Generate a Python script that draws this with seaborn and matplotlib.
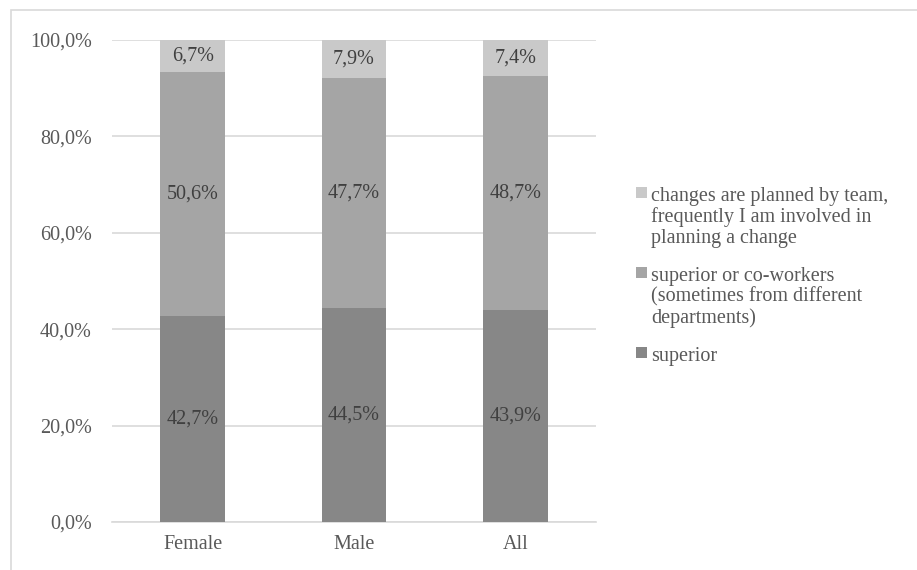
import pandas as pd
import seaborn as sns
import matplotlib.pyplot as plt
from matplotlib.patches import Patch, Rectangle
from matplotlib.ticker import FuncFormatter

groups = ["Female", "Male", "All"]
superior = [42.7, 44.5, 43.9]
coworkers = [50.6, 47.7, 48.7]
team = [6.7, 7.9, 7.4]

series_names = [
    "superior",
    "superior or co-workers\n(sometimes from different\ndepartments)",
    "changes are planned by team,\nfrequently I am involved in\nplanning a change",
]
series_colors = ["#878787", "#a5a5a5", "#c9c9c9"]


def fmt_pct(v):
    return f"{v:.1f}".replace(".", ",") + "%"


sns.set_theme(style="white")
plt.rcParams["font.family"] = ["Liberation Serif", "DejaVu Serif"]

fig = plt.figure(figsize=(9.17, 5.70), dpi=100)
ax = fig.add_axes([0.1221, 0.0842, 0.5279, 0.8456])

layers = [superior, coworkers, team]
cum = [0.0] * len(groups)
cums = []
for vals in layers:
    cum = [c + v for c, v in zip(cum, vals)]
    cums.append(cum)

# stacked bars drawn as overlapping totals, tallest first
for vals, color in zip(reversed(cums), reversed(series_colors)):
    df = pd.DataFrame({"group": groups, "value": [v / 100 for v in vals]})
    sns.barplot(data=df, x="group", y="value", color=color, width=0.4,
                saturation=1, errorbar=None, ax=ax, zorder=3, linewidth=0)

bottom = [0.0] * len(groups)
for vals in layers:
    for i, v in enumerate(vals):
        ax.text(i, (bottom[i] + v / 2) / 100, fmt_pct(v), ha="center",
                va="center", fontsize=14.5, color="#404040", zorder=4)
    bottom = [b + v for b, v in zip(bottom, vals)]

ax.set_ylim(0, 1)
ax.set_yticks([0, 0.2, 0.4, 0.6, 0.8, 1.0])
ax.yaxis.set_major_formatter(FuncFormatter(lambda y, _: fmt_pct(y * 100)))
ax.set_xlabel("")
ax.set_ylabel("")
ax.grid(axis="y", color="#d9d9d9", linewidth=1.2, zorder=0)
ax.set_axisbelow(True)
for s in ["top", "right", "left"]:
    ax.spines[s].set_visible(False)
ax.spines["bottom"].set_color("#d9d9d9")
ax.spines["bottom"].set_linewidth(1.2)
ax.tick_params(axis="both", length=0, labelsize=14.5, labelcolor="#595959")
ax.tick_params(axis="y", pad=14.5)
ax.tick_params(axis="x", pad=9)

handles = [Patch(facecolor=c, edgecolor="none") for c in series_colors]
leg = fig.legend(handles[::-1], series_names[::-1], loc="center left",
                 bbox_to_anchor=(0.674, 0.515), frameon=False, fontsize=14.5,
                 handlelength=0.55, handleheight=0.5, handletextpad=0.2,
                 labelspacing=0.95, labelcolor="#595959")
for t in leg.get_texts():
    t.set_linespacing(1.1)
# put each marker next to the first line of its label
for row in leg._legend_handle_box.get_children()[0].get_children():
    row.align = "top"

fig.add_artist(Rectangle((11 / 917, -0.1), 1.2, 1.1 - 10 / 570,
                         transform=fig.transFigure, fill=False,
                         edgecolor="#d9d9d9", linewidth=1.2))

fig.savefig("out.png", dpi=100)
